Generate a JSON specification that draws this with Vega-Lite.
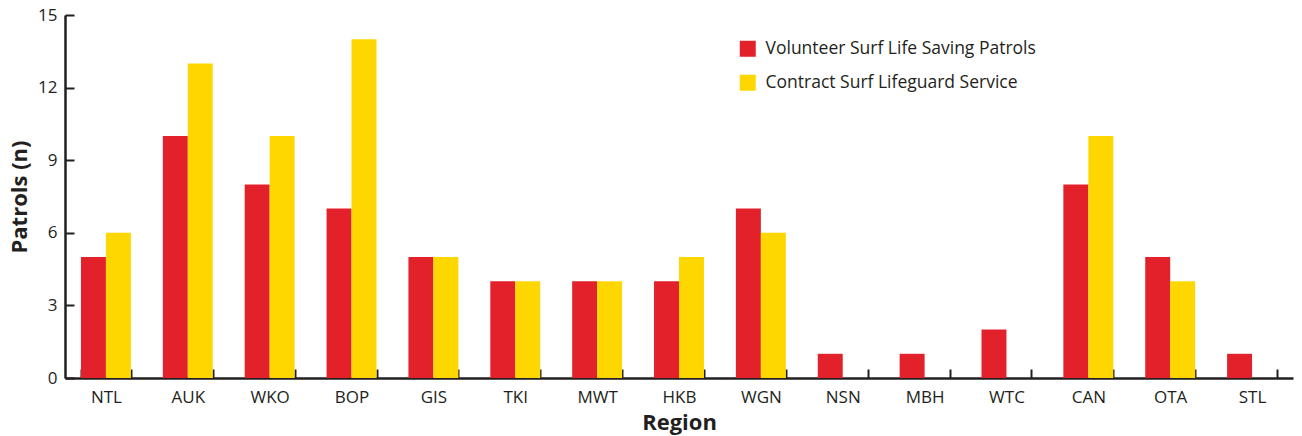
{
  "$schema": "https://vega.github.io/schema/vega-lite/v6.json",
  "autosize": {"type": "none"},
  "padding": {"left": 65, "top": 15, "right": 9, "bottom": 58},
  "width": 1228,
  "height": 363,
  "background": "white",
  "config": {
    "font": "Open Sans",
    "view": {"stroke": null},
    "axis": {
      "domainColor": "#231f20",
      "domainWidth": 2.5,
      "tickColor": "#231f20",
      "tickWidth": 2,
      "labelColor": "#231f20",
      "titleColor": "#231f20",
      "labelFontSize": 17,
      "titleFontSize": 22,
      "titleFontWeight": "bold",
      "grid": false
    }
  },
  "data": {
    "values": [
      {"region": "NTL", "service": "Volunteer Surf Life Saving Patrols", "patrols": 5},
      {"region": "NTL", "service": "Contract Surf Lifeguard Service", "patrols": 6},
      {"region": "AUK", "service": "Volunteer Surf Life Saving Patrols", "patrols": 10},
      {"region": "AUK", "service": "Contract Surf Lifeguard Service", "patrols": 13},
      {"region": "WKO", "service": "Volunteer Surf Life Saving Patrols", "patrols": 8},
      {"region": "WKO", "service": "Contract Surf Lifeguard Service", "patrols": 10},
      {"region": "BOP", "service": "Volunteer Surf Life Saving Patrols", "patrols": 7},
      {"region": "BOP", "service": "Contract Surf Lifeguard Service", "patrols": 14},
      {"region": "GIS", "service": "Volunteer Surf Life Saving Patrols", "patrols": 5},
      {"region": "GIS", "service": "Contract Surf Lifeguard Service", "patrols": 5},
      {"region": "TKI", "service": "Volunteer Surf Life Saving Patrols", "patrols": 4},
      {"region": "TKI", "service": "Contract Surf Lifeguard Service", "patrols": 4},
      {"region": "MWT", "service": "Volunteer Surf Life Saving Patrols", "patrols": 4},
      {"region": "MWT", "service": "Contract Surf Lifeguard Service", "patrols": 4},
      {"region": "HKB", "service": "Volunteer Surf Life Saving Patrols", "patrols": 4},
      {"region": "HKB", "service": "Contract Surf Lifeguard Service", "patrols": 5},
      {"region": "WGN", "service": "Volunteer Surf Life Saving Patrols", "patrols": 7},
      {"region": "WGN", "service": "Contract Surf Lifeguard Service", "patrols": 6},
      {"region": "NSN", "service": "Volunteer Surf Life Saving Patrols", "patrols": 1},
      {"region": "NSN", "service": "Contract Surf Lifeguard Service", "patrols": 0},
      {"region": "MBH", "service": "Volunteer Surf Life Saving Patrols", "patrols": 1},
      {"region": "MBH", "service": "Contract Surf Lifeguard Service", "patrols": 0},
      {"region": "WTC", "service": "Volunteer Surf Life Saving Patrols", "patrols": 2},
      {"region": "WTC", "service": "Contract Surf Lifeguard Service", "patrols": 0},
      {"region": "CAN", "service": "Volunteer Surf Life Saving Patrols", "patrols": 8},
      {"region": "CAN", "service": "Contract Surf Lifeguard Service", "patrols": 10},
      {"region": "OTA", "service": "Volunteer Surf Life Saving Patrols", "patrols": 5},
      {"region": "OTA", "service": "Contract Surf Lifeguard Service", "patrols": 4},
      {"region": "STL", "service": "Volunteer Surf Life Saving Patrols", "patrols": 1},
      {"region": "STL", "service": "Contract Surf Lifeguard Service", "patrols": 0}
    ]
  },
  "mark": {"type": "bar"},
  "encoding": {
    "x": {
      "field": "region",
      "type": "nominal",
      "sort": null,
      "title": "Region",
      "scale": {"paddingInner": 0.39, "paddingOuter": 0.195},
      "axis": {
        "labelAngle": 0,
        "tickBand": "extent",
        "tickSize": -9,
        "labelPadding": 20,
        "titlePadding": 7
      }
    },
    "xOffset": {
      "field": "service",
      "type": "nominal",
      "sort": ["Volunteer Surf Life Saving Patrols", "Contract Surf Lifeguard Service"],
      "scale": {"paddingInner": 0, "paddingOuter": 0}
    },
    "y": {
      "field": "patrols",
      "type": "quantitative",
      "title": "Patrols (n)",
      "scale": {"domain": [0, 15], "nice": false},
      "axis": {
        "values": [0, 3, 6, 9, 12, 15],
        "tickSize": -9,
        "labelPadding": 17,
        "titlePadding": 6
      }
    },
    "color": {
      "field": "service",
      "type": "nominal",
      "sort": ["Volunteer Surf Life Saving Patrols", "Contract Surf Lifeguard Service"],
      "scale": {
        "domain": ["Volunteer Surf Life Saving Patrols", "Contract Surf Lifeguard Service"],
        "range": ["#e3212a", "#ffd700"]
      },
      "legend": {
        "title": null,
        "orient": "none",
        "legendX": 674,
        "legendY": 25,
        "padding": 0,
        "symbolType": "square",
        "symbolSize": 256,
        "symbolStrokeWidth": 0,
        "symbolOpacity": 1,
        "labelFontSize": 17.5,
        "labelColor": "#231f20",
        "labelOffset": 9,
        "rowPadding": 15,
        "labelLimit": 400
      }
    }
  }
}
